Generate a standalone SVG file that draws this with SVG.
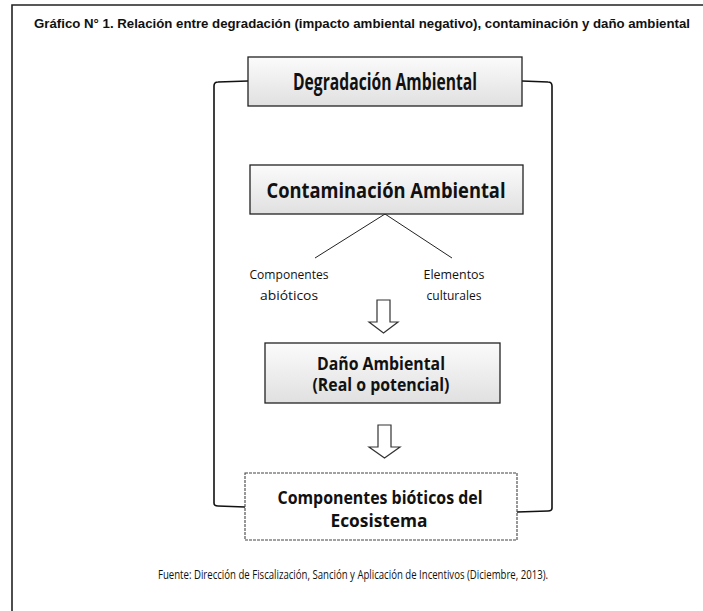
<svg xmlns="http://www.w3.org/2000/svg" width="703" height="611" viewBox="0 0 703 611">
<style>
.box{stroke:#222;stroke-width:1.3}
.conn{fill:none;stroke:#111;stroke-width:1.6;stroke-linejoin:round}
.line{stroke:#222;stroke-width:1}
.arrow{fill:#fff;stroke:#333;stroke-width:1.2;stroke-linejoin:miter}
.bt{font-family:"Open Sans","Liberation Sans",sans-serif;font-weight:bold;fill:#111;text-anchor:middle}
.st{font-family:"Open Sans","Liberation Sans",sans-serif;fill:#111;text-anchor:middle;font-size:12px}
</style>
<defs>
<linearGradient id="speck" x1="0" y1="0" x2="0" y2="1">
<stop offset="0" stop-color="#fbfbfb"/>
<stop offset="1" stop-color="#e0e0e0"/>
</linearGradient>
</defs>
<rect width="703" height="611" fill="#fff"/>
<g id="frame">
<path d="M12 611 V5 H703" fill="none" stroke="#222" stroke-width="1.6"/>
</g>
<text x="362" y="28" font-family="'Liberation Sans',Arial,sans-serif" font-weight="bold" font-size="12.5" fill="#111" text-anchor="middle" textLength="656" lengthAdjust="spacingAndGlyphs">Gráfico N° 1. Relación entre degradación (impacto ambiental negativo), contaminación y daño ambiental</text>
<g id="connectors">
<path class="conn" d="M248 81 L218 82 Q214 82 214 86 V503 Q214 506 218 506 L245 507"/>
<path class="conn" d="M522 81 L548 82 Q552 82 552 86 V508 Q552 511 548 511 L517 512"/>
<line class="line" x1="385" y1="214" x2="315" y2="258"/>
<line class="line" x1="385" y1="214" x2="452" y2="258"/>
<polygon class="arrow" points="377,300 390,300 390,322 398,322 383.5,333 369,322 377,322"/>
<polygon class="arrow" points="378,425 391,425 391,447 400,447 384.5,458 369,447 378,447"/>
</g>
<g id="degradacion">
<rect class="box" x="248" y="57" width="274" height="49" fill="url(#speck)"/>
<text class="bt" x="385" y="90" font-size="23" textLength="184" lengthAdjust="spacingAndGlyphs">Degradación Ambiental</text>
</g>
<g id="contaminacion">
<rect class="box" x="250" y="165" width="273" height="49" fill="url(#speck)"/>
<text class="bt" x="386" y="198" font-size="22" textLength="239" lengthAdjust="spacingAndGlyphs">Contaminación Ambiental</text>
</g>
<g id="abioticos">
<text class="st" x="289" y="279" textLength="79" lengthAdjust="spacingAndGlyphs">Componentes</text>
<text class="st" x="289" y="300" textLength="58" lengthAdjust="spacingAndGlyphs">abióticos</text>
</g>
<g id="culturales">
<text class="st" x="454" y="279" textLength="61" lengthAdjust="spacingAndGlyphs">Elementos</text>
<text class="st" x="454" y="300" textLength="55" lengthAdjust="spacingAndGlyphs">culturales</text>
</g>
<g id="dano">
<rect class="box" x="265" y="343" width="235" height="60" fill="url(#speck)"/>
<text class="bt" x="381" y="370" font-size="17" textLength="128" lengthAdjust="spacingAndGlyphs">Daño Ambiental</text>
<text class="bt" x="381" y="391" font-size="17" textLength="137" lengthAdjust="spacingAndGlyphs">(Real o potencial)</text>
</g>
<g id="bioticos">
<rect x="245" y="473" width="272" height="67" fill="#fff" stroke="#444" stroke-width="1.1" stroke-dasharray="3 1"/>
<text class="bt" x="380" y="504" font-size="18" textLength="205" lengthAdjust="spacingAndGlyphs">Componentes bióticos del</text>
<text class="bt" x="379" y="527" font-size="18" textLength="97" lengthAdjust="spacingAndGlyphs">Ecosistema</text>
</g>
<text class="st" x="353" y="579" font-size="11" textLength="390" lengthAdjust="spacingAndGlyphs">Fuente: Dirección de Fiscalización, Sanción y Aplicación de Incentivos (Diciembre, 2013).</text>
</svg>
